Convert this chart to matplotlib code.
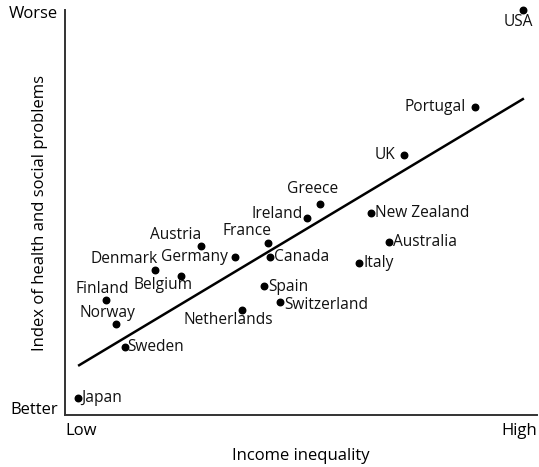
import matplotlib.pyplot as plt
import numpy as np

plt.rcParams['font.family'] = ['Open Sans', 'DejaVu Sans']

# countries and their positions (index units, 0-100)
countries = ["USA", "Portugal", "UK", "Greece", "Ireland", "New Zealand",
             "Australia", "Italy", "France", "Canada", "Germany", "Austria",
             "Denmark", "Belgium", "Finland", "Norway", "Sweden", "Japan",
             "Netherlands", "Spain", "Switzerland"]
inequality = [97.0, 86.9, 71.8, 54.0, 51.3, 64.8, 68.6, 62.3, 43.0, 43.4, 36.0,
              28.8, 19.1, 24.6, 8.7, 10.8, 12.7, 2.8, 37.5, 42.2, 45.6]
problems = [100.0, 76.0, 64.2, 52.1, 48.6, 49.9, 42.7, 37.5, 42.5, 39.0, 39.0,
            41.7, 35.8, 34.3, 28.4, 22.5, 16.8, 4.2, 25.9, 31.9, 27.9]

# trend line end points
trend_x = [3.0, 97.0]
trend_y = [12.3, 78.0]

# where each label sits relative to its dot: (dx, dy) in points, ha, va
label_pos = {
    "USA": (-3, -3, "center", "top"),
    "Portugal": (-7, 0, "right", "center"),
    "UK": (-6, 0, "right", "center"),
    "Greece": (-5, 5, "center", "bottom"),
    "Ireland": (-3, 3, "right", "center"),
    "New Zealand": (3, 0, "left", "center"),
    "Australia": (3, 0, "left", "center"),
    "Italy": (3, 0, "left", "center"),
    "France": (-15, 3, "center", "bottom"),
    "Canada": (3, 0, "left", "center"),
    "Germany": (-5, 0, "right", "center"),
    "Austria": (-18, 2, "center", "bottom"),
    "Denmark": (2, 2, "right", "bottom"),
    "Belgium": (-13, -1, "center", "top"),
    "Finland": (-3, 2, "center", "bottom"),
    "Norway": (-6, 2, "center", "bottom"),
    "Sweden": (2, 0, "left", "center"),
    "Japan": (2, 0, "left", "center"),
    "Netherlands": (-10, -1, "center", "top"),
    "Spain": (3, -1, "left", "center"),
    "Switzerland": (3, -2, "left", "center"),
}

fig = plt.figure(figsize=(5.39, 4.67), dpi=100)
ax = fig.add_axes([0.1206, 0.1113, 0.8757, 0.8673])

ax.scatter(inequality, problems, s=22, color="black", zorder=3, clip_on=False)
ax.plot(trend_x, trend_y, color="black", lw=1.8)

for name, x, y in zip(countries, inequality, problems):
    dx, dy, ha, va = label_pos[name]
    ax.annotate(name, (x, y), xytext=(dx, dy), textcoords="offset points",
                ha=ha, va=va, fontsize=11.2, color="#111111")

ax.set_xlim(0, 100)
ax.set_ylim(0, 100)
for s in ["top", "right"]:
    ax.spines[s].set_visible(False)
for s in ["left", "bottom"]:
    ax.spines[s].set_linewidth(1.4)
    ax.spines[s].set_color("#333333")
ax.set_xticks([])
ax.set_yticks([])

ax.text(-0.015, 0.99, "Worse", transform=ax.transAxes, ha="right", va="center", fontsize=12)
ax.text(-0.015, 0.012, "Better", transform=ax.transAxes, ha="right", va="center", fontsize=12)
ax.text(0.0, -0.04, "Low", transform=ax.transAxes, ha="left", va="center", fontsize=12)
ax.text(1.0, -0.04, "High", transform=ax.transAxes, ha="right", va="center", fontsize=12)

ax.set_xlabel("Income inequality", fontsize=12, labelpad=24)
ax.set_ylabel("Index of health and social problems", fontsize=12, labelpad=12)

fig.savefig("out.png", dpi=100)
